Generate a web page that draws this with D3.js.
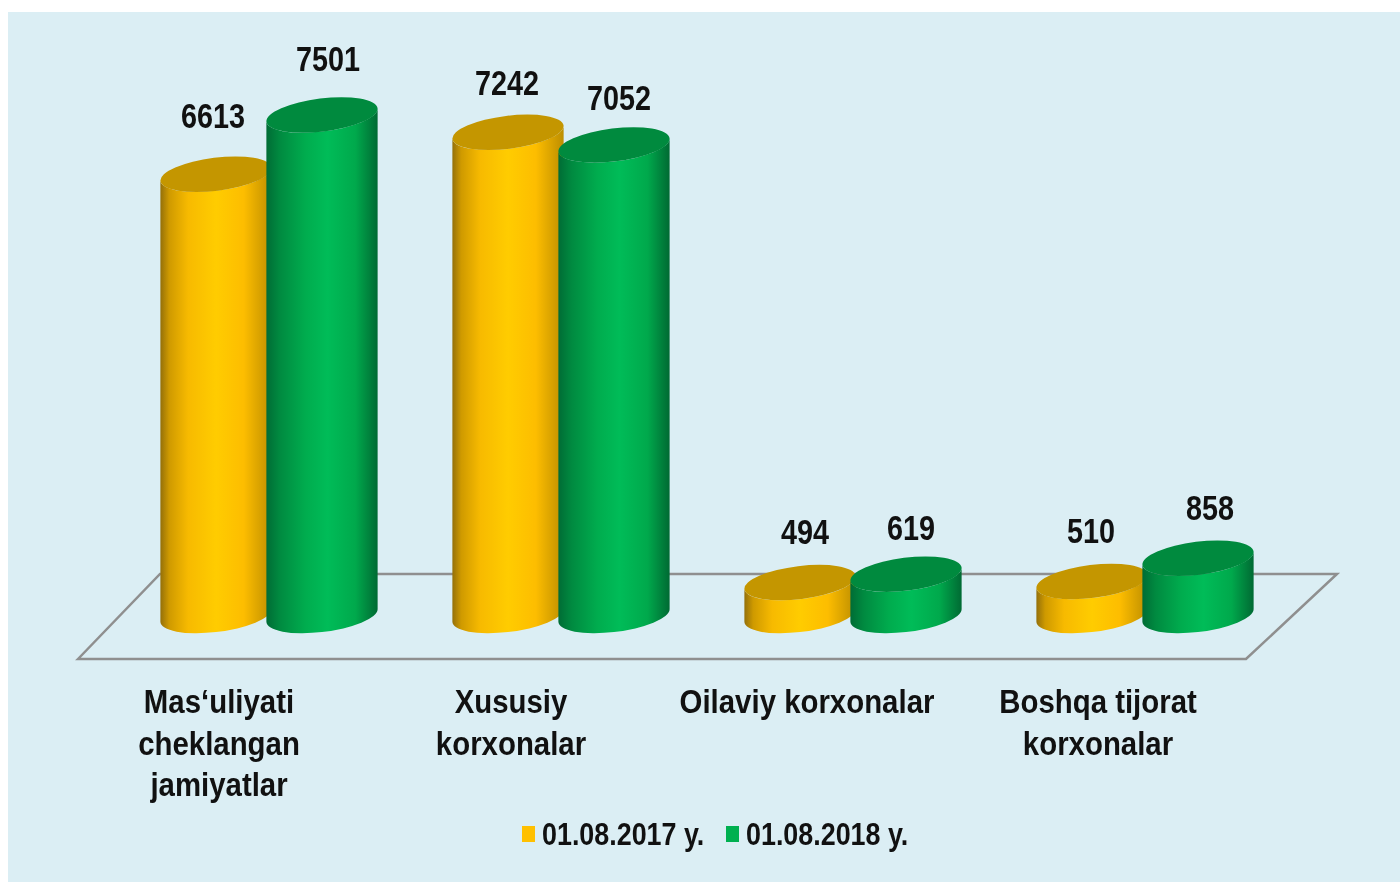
<!DOCTYPE html>
<html>
<head>
<meta charset="utf-8">
<script src="https://cdn.jsdelivr.net/npm/d3@7"></script>
<style>
  html, body { margin: 0; padding: 0; background: #fff; }
  svg { display: block; filter: blur(0.5px); }
  text { font-family: "Liberation Sans", sans-serif; font-weight: bold; fill: #111; }
</style>
</head>
<body>
<script>
var categories = [
    ["Mas\u2018uliyati", "cheklangan", "jamiyatlar"],
    ["Xususiy", "korxonalar"],
    ["Oilaviy korxonalar"],
    ["Boshqa tijorat", "korxonalar"]
];
var seriesNames = ["01.08.2017 y.", "01.08.2018 y."];
var values2017 = [6613, 7242, 494, 510];
var values2018 = [7501, 7052, 619, 858];

var WIDTH = 1400, HEIGHT = 884;
var BASE_Y = 615.5;
var RX = 56, RY = 16.5, TILT = -7;

var svg = d3.select("body").append("svg")
    .attr("width", WIDTH)
    .attr("height", HEIGHT);

svg.append("rect")
    .attr("x", 8).attr("y", 12)
    .attr("width", WIDTH - 8).attr("height", 870)
    .attr("fill", "#dbeef4");

var x0 = d3.scalePoint().domain(d3.range(categories.length)).range([269, 1145]);
var x1 = d3.scalePoint().domain([0, 1]).range([-53, 53]);
var y = d3.scaleLinear().domain([0, 7501]).range([BASE_Y, 115]);

var defs = svg.append("defs");
function addGradient(id, stops) {
    var g = defs.append("linearGradient").attr("id", id)
        .attr("x1", "0").attr("x2", "1").attr("y1", "0").attr("y2", "0");
    stops.forEach(function (s) {
        g.append("stop").attr("offset", s[0]).attr("stop-color", s[1]);
    });
}
addGradient("bodyOrange", [[0, "#94700a"], [0.08, "#cf9a00"], [0.25, "#f7ba00"], [0.5, "#ffcc00"], [0.75, "#fdbd00"], [1, "#bd8e00"]]);
addGradient("bodyGreen", [[0, "#006c35"], [0.12, "#008a40"], [0.35, "#00ac4e"], [0.55, "#00bc58"], [0.8, "#00a94c"], [1, "#006a33"]]);

var seriesStyle = [
    { body: "url(#bodyOrange)", cap: "#c49600", key: "#ffc000" },
    { body: "url(#bodyGreen)", cap: "#008a3e", key: "#00b050" }
];

// floor
var floor = d3.line();
svg.append("path")
    .attr("d", floor([[78, 659], [160, 574], [1337, 574], [1246, 659]]) + "Z")
    .attr("fill", "none")
    .attr("stroke", "#8f8f8f")
    .attr("stroke-width", 2.5);

// rotated ellipse: side points where the outline is vertical
var phi = TILT * Math.PI / 180;
var t0 = Math.atan(-(RY / RX) * Math.tan(phi));
var sideX = RX * Math.cos(t0) * Math.cos(phi) - RY * Math.sin(t0) * Math.sin(phi);
var sideY = RX * Math.cos(t0) * Math.sin(phi) + RY * Math.sin(t0) * Math.cos(phi);

function cylinderPath(cx, topY) {
    return "M" + (cx - sideX) + "," + (topY - sideY) +
        "L" + (cx - sideX) + "," + (BASE_Y - sideY) +
        "A" + RX + "," + RY + " " + TILT + " 0 0 " + (cx + sideX) + "," + (BASE_Y + sideY) +
        "L" + (cx + sideX) + "," + (topY + sideY) +
        "A" + RX + "," + RY + " " + TILT + " 0 1 " + (cx - sideX) + "," + (topY - sideY) + "Z";
}

// no narrow font here, so squeeze real text sideways
function narrowText(x, yPos, str, size, squeeze, anchor) {
    return svg.append("text")
        .attr("transform", "translate(" + x + "," + yPos + ") scale(" + squeeze + ",1)")
        .attr("text-anchor", anchor)
        .style("font-size", size + "px")
        .text(str);
}

// label nudges from the top of each cylinder
var labelNudge = [[[-3, -46], [6, -44]], [[-1, -37], [5, -35]], [[5, -39], [5, -34]], [[-1, -38], [12, -38]]];
var catNudge = [-50, -50, -46, -47];

categories.forEach(function (c, i) {
    [values2017[i], values2018[i]].forEach(function (v, s) {
        var cx = x0(i) + x1(s);
        var style = seriesStyle[s];
        svg.append("path")
            .attr("d", cylinderPath(cx, y(v)))
            .attr("fill", style.body);
        svg.append("ellipse")
            .attr("rx", RX).attr("ry", RY)
            .attr("transform", "translate(" + cx + "," + y(v) + ") rotate(" + TILT + ")")
            .attr("fill", style.cap);
    });
});

categories.forEach(function (c, i) {
    [values2017[i], values2018[i]].forEach(function (v, s) {
        narrowText(x0(i) + x1(s) + labelNudge[i][s][0], y(v) + labelNudge[i][s][1], v, 36, 0.8, "middle");
    });
    c.forEach(function (line, k) {
        narrowText(x0(i) + catNudge[i], 713 + k * 41.5, line, 34, 0.865, "middle");
    });
});

// legend
var legendX = [522, 726];
seriesNames.forEach(function (name, s) {
    svg.append("rect")
        .attr("x", legendX[s]).attr("y", 826)
        .attr("width", 13).attr("height", 16)
        .attr("fill", seriesStyle[s].key);
    narrowText(legendX[s] + 20, 845, name, 31, 0.867, "start");
});
</script>
</body>
</html>
